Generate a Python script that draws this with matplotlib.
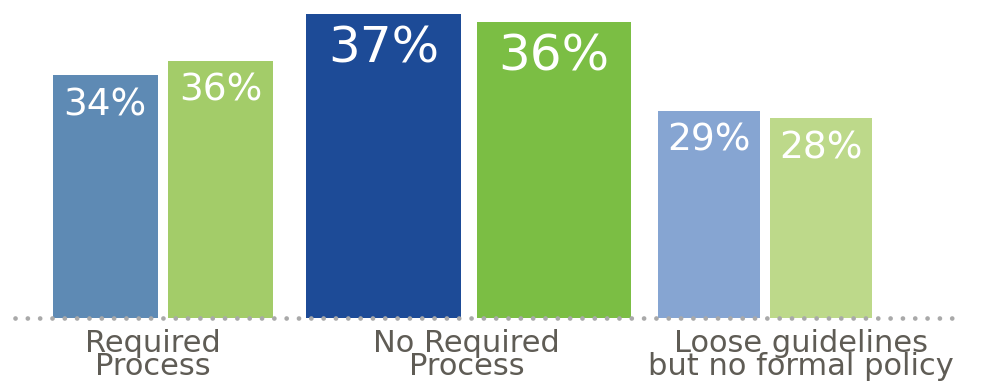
import matplotlib
matplotlib.use("Agg")
import matplotlib.pyplot as plt
import numpy as np

groups = ["Required\nProcess", "No Required\nProcess", "Loose guidelines\nbut no formal policy"]
series_a = [34, 37, 29]
series_b = [36, 36, 28]
labels_a = ["34%", "37%", "29%"]
labels_b = ["36%", "36%", "28%"]

colors_a = ["#5E8AB4", "#1D4B97", "#86A5D2"]
colors_b = ["#A3CC69", "#7BBE44", "#BDD98A"]
# middle group is visually emphasised (wider / taller)
emph_w = [1.0, 1.47, 0.97]
emph_h = [1.0, 1.15, 1.0]
label_size = [27, 36, 27]
centers = np.array([0.0, 2.94, 5.79])

W, H, DPI = 982, 385, 100
fig = plt.figure(figsize=(W / DPI, H / DPI), dpi=DPI)
ax = fig.add_axes([0, 0, 1, 1])
px_x = 104.0   # pixels per x unit
px_y = 7.14    # pixels per y unit
ax.set_xlim(-163 / px_x, (W - 163) / px_x)
ax.set_ylim(-67 / px_y, (H - 67) / px_y)
ax.axis("off")

font = "DejaVu Sans"
for i, c in enumerate(centers):
    w = 1.01 * emph_w[i]
    off = 0.557 * emph_w[i]
    ha_ = series_a[i] * emph_h[i]
    hb_ = series_b[i] * emph_h[i]
    ax.bar(c - off, ha_, width=w, color=colors_a[i], zorder=2)
    ax.bar(c + off, hb_, width=w, color=colors_b[i], zorder=2)
    d = 4.2 * emph_h[i]
    ax.text(c - off, ha_ - d, labels_a[i], color="white", ha="center", va="center",
            fontsize=label_size[i], fontfamily=font, fontweight="medium", zorder=4)
    ax.text(c + off, hb_ - d, labels_b[i], color="white", ha="center", va="center",
            fontsize=label_size[i], fontfamily=font, fontweight="medium", zorder=4)

label_x = centers + np.array([-0.1, -0.02, 0.34])
for x, g in zip(label_x, groups):
    ax.text(x, -1.6, g, ha="center", va="top", fontsize=22, color="#5F5C55",
            fontfamily=font, linespacing=0.74, zorder=4)

# dotted baseline
x0 = (15 - 163) / px_x
x1 = (953 - 163) / px_x
ax.plot([x0, x1], [0, 0], color="#A9A9A9", lw=3.4, dash_capstyle="round",
        linestyle=(0, (0.01, 2.6)), zorder=3, solid_capstyle="round")

fig.savefig("out.png", dpi=DPI)
